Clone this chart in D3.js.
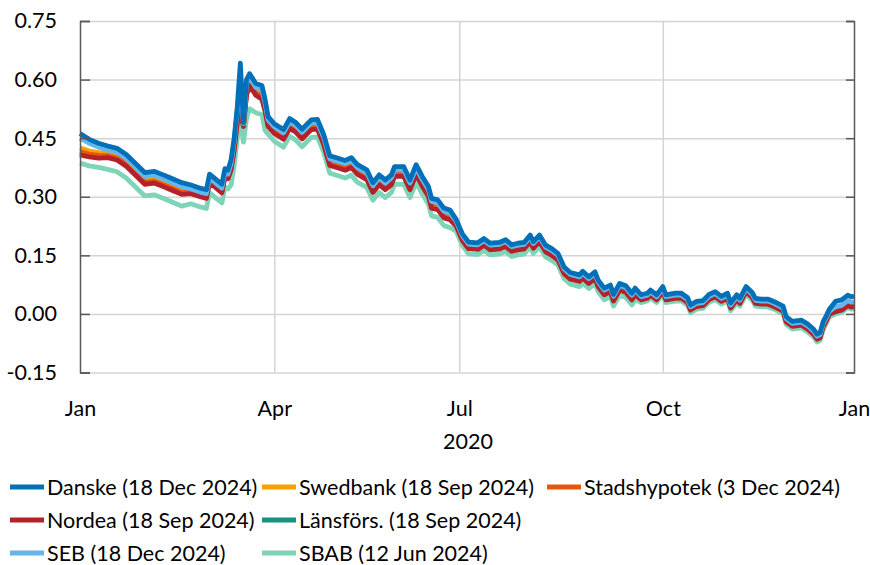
<!DOCTYPE html>
<html>
<head>
<meta charset="utf-8">
<script src="https://cdn.jsdelivr.net/npm/d3@7"></script>
<style>
  body { margin: 0; background: #fff; }
  text { font-family: Lato, 'Liberation Sans', sans-serif; fill: #000; }
</style>
</head>
<body>
<div id="chart"></div>
<script>
const width = 870;
const height = 565;

// trading-day index within 2020 (0 = first trading day in Jan)
const obs = [0, 3, 6, 9, 12, 15, 18, 21, 24, 27, 30, 33, 36, 39, 41, 42, 44, 46, 47, 48,
  49, 50, 51, 52, 53, 54, 55, 57, 59, 60,
  61, 63, 66, 68, 70, 72, 75, 77, 79, 81, 84, 86, 88, 90, 93, 95, 97, 99, 101, 102,
  105, 107, 109, 111, 113, 114, 116, 118, 120,
  122, 124, 126, 129, 131, 133, 136, 138, 140, 142, 144, 146, 147, 149, 151, 153, 155, 157, 159, 162,
  163, 165, 167, 168, 170, 172, 173, 175, 177, 179, 180,
  182, 184, 185, 187, 189, 190, 193, 195, 197, 198, 200, 202, 204, 206, 208, 210, 211, 213, 214, 216,
  218, 219, 221, 223, 225, 228, 229, 231, 234, 236, 238, 239, 240, 241, 242, 243,
  245, 247, 249, 250, 251];

const danske = [.462, .447, .437, .430, .424, .408, .385, .362, .365, .356, .346, .336, .330, .322, .318, .358, .345, .332, .372, .368,
  .395, .450, .530, .642, .490, .600, .615, .590, .585, .550,
  .505, .487, .472, .500, .490, .473, .497, .498, .460, .405, .398, .393, .400, .382, .369, .336, .356, .343, .356, .377,
  .377, .343, .382, .352, .326, .296, .292, .271, .266,
  .242, .205, .184, .182, .193, .181, .183, .190, .177, .181, .183, .202, .185, .202, .176, .167, .155, .120, .106, .100,
  .109, .095, .108, .087, .066, .074, .050, .078, .072, .053, .066,
  .049, .053, .061, .049, .070, .049, .053, .053, .042, .023, .032, .034, .050, .057, .045, .053, .028, .049, .040, .070,
  .055, .040, .038, .038, .032, .020, -.007, -.019, -.016, -.026, -.040, -.052, -.048, -.020, -.005, .012,
  .032, .036, .048, .044, .045];

const seb = [.450, .437, .427, .420, .414, .398, .375, .352, .355, .346, .336, .326, .320, .312, .308, .348, .335, .322, .362, .358,
  .385, .440, .520, .600, .487, .590, .605, .580, .575, .540,
  .497, .479, .464, .492, .482, .465, .489, .490, .452, .397, .390, .385, .392, .374, .361, .328, .348, .335, .348, .369,
  .369, .335, .374, .344, .318, .288, .284, .263, .258,
  .237, .200, .179, .177, .188, .176, .178, .185, .172, .176, .178, .197, .180, .197, .171, .162, .150, .115, .101, .095,
  .104, .090, .103, .082, .061, .069, .045, .073, .067, .048, .061,
  .044, .048, .056, .044, .065, .044, .048, .048, .037, .018, .027, .029, .045, .052, .040, .048, .023, .044, .035, .065,
  .050, .035, .033, .033, .027, .015, -.012, -.024, -.021, -.031, -.045, -.057, -.053, -.025, -.010, .007,
  .018, .022, .034, .030, .031];

const swedbank = [.425, .417, .413, .410, .404, .388, .365, .342, .345, .336, .326, .316, .316, .308, .304, .344, .331, .318, .358, .354,
  .380, .430, .500, .560, .485, .575, .595, .570, .565, .530,
  .490, .472, .457, .485, .475, .458, .482, .483, .445, .390, .383, .378, .385, .367, .354, .321, .341, .328, .341, .362,
  .362, .328, .367, .337, .311, .281, .277, .256, .251,
  .234, .197, .176, .174, .185, .173, .175, .182, .169, .173, .175, .194, .177, .194, .168, .159, .147, .112, .098, .092,
  .101, .087, .100, .079, .058, .066, .042, .070, .064, .045, .058,
  .042, .046, .054, .042, .063, .042, .046, .046, .035, .016, .025, .027, .043, .050, .038, .046, .021, .042, .033, .063,
  .048, .033, .031, .031, .025, .013, -.014, -.026, -.023, -.033, -.047, -.059, -.055, -.027, -.012, .005,
  .008, .012, .024, .020, .021];

const stadshypotek = [.416, .409, .406, .405, .399, .383, .360, .337, .340, .331, .321, .311, .312, .304, .300, .340, .327, .314, .354, .350,
  .375, .425, .495, .540, .482, .570, .590, .565, .560, .525,
  .487, .469, .454, .482, .472, .455, .479, .480, .442, .387, .380, .375, .382, .364, .351, .318, .338, .325, .338, .359,
  .359, .325, .364, .334, .308, .278, .274, .253, .248,
  .232, .195, .174, .172, .183, .171, .173, .180, .167, .171, .173, .192, .175, .192, .166, .157, .145, .110, .096, .090,
  .099, .085, .098, .077, .056, .064, .040, .068, .062, .043, .056,
  .040, .044, .052, .040, .061, .040, .044, .044, .033, .014, .023, .025, .041, .048, .036, .044, .019, .040, .031, .061,
  .046, .031, .029, .029, .023, .011, -.016, -.028, -.025, -.035, -.049, -.061, -.057, -.029, -.014, .003,
  .007, .011, .023, .019, .020];

const nordea = [.407, .402, .399, .400, .394, .378, .355, .332, .335, .326, .316, .306, .308, .300, .296, .336, .323, .310, .350, .346,
  .370, .420, .490, .520, .480, .560, .585, .560, .550, .520,
  .480, .462, .447, .475, .465, .448, .472, .473, .435, .380, .373, .368, .375, .357, .344, .311, .331, .318, .331, .352,
  .352, .318, .357, .327, .301, .271, .267, .246, .241,
  .225, .188, .167, .165, .176, .164, .166, .173, .160, .164, .166, .185, .168, .185, .159, .150, .138, .103, .089, .083,
  .092, .078, .091, .070, .049, .057, .033, .061, .055, .036, .049,
  .036, .040, .048, .036, .057, .036, .040, .040, .029, .010, .019, .021, .037, .044, .032, .040, .015, .036, .027, .057,
  .042, .027, .025, .025, .019, .007, -.020, -.032, -.029, -.039, -.053, -.065, -.061, -.033, -.018, -.001,
  .006, .010, .022, .018, .019];

const lansfors = [.410, .405, .402, .403, .397, .381, .358, .335, .338, .329, .319, .309, .311, .303, .299, .339, .326, .313, .353, .349,
  .373, .423, .493, .523, .483, .563, .588, .563, .553, .523,
  .483, .465, .450, .478, .468, .451, .475, .476, .438, .383, .376, .371, .378, .360, .347, .314, .334, .321, .334, .355,
  .355, .321, .360, .330, .304, .274, .270, .249, .244,
  .228, .191, .170, .168, .179, .167, .169, .176, .163, .167, .169, .188, .171, .188, .162, .153, .141, .106, .092, .086,
  .095, .081, .094, .073, .052, .060, .036, .064, .058, .039, .052,
  .039, .043, .051, .039, .060, .039, .043, .043, .032, .013, .022, .024, .040, .047, .035, .043, .018, .039, .030, .060,
  .045, .030, .028, .028, .022, .010, -.017, -.029, -.026, -.036, -.050, -.062, -.058, -.030, -.015, .002,
  .006, .010, .022, .018, .019];

const sbab = [.386, .379, .375, .370, .364, .348, .325, .302, .305, .296, .286, .276, .282, .274, .270, .310, .297, .284, .324, .320,
  .330, .380, .450, .500, .440, .500, .525, .515, .510, .470,
  .460, .442, .427, .455, .445, .428, .452, .453, .415, .360, .353, .348, .355, .337, .324, .291, .311, .298, .311, .332,
  .332, .298, .337, .307, .281, .251, .247, .226, .221,
  .212, .175, .154, .152, .163, .151, .153, .160, .147, .151, .153, .172, .155, .172, .146, .137, .125, .090, .076, .070,
  .079, .065, .078, .057, .036, .044, .020, .048, .042, .023, .036,
  .029, .033, .041, .029, .050, .029, .033, .033, .022, .003, .012, .014, .030, .037, .025, .033, .008, .029, .020, .050,
  .035, .020, .018, .018, .012, .000, -.027, -.039, -.036, -.046, -.060, -.072, -.068, -.040, -.025, -.008,
  .000, .004, .016, .012, .013];

const yTicks = [-0.15, 0, 0.15, 0.30, 0.45, 0.60, 0.75];
const quarterObs = [0, 63, 123, 189, 251];
const quarterLabels = ['Jan', 'Apr', 'Jul', 'Oct', 'Jan'];
const yearLabel = '2020';

const names = ['Danske (18 Dec 2024)', 'Swedbank (18 Sep 2024)', 'Stadshypotek (3 Dec 2024)',
  'Nordea (18 Sep 2024)', 'Länsförs. (18 Sep 2024)', 'SEB (18 Dec 2024)', 'SBAB (12 Jun 2024)'];
const colors = ['#0070b8', '#f5a100', '#e8560e', '#b52128', '#169180', '#63b6ee', '#7ed4b6'];
const valueLists = [danske, swedbank, stadshypotek, nordea, lansfors, seb, sbab];

const series = names.map((name, i) => ({name, color: colors[i], values: valueLists[i]}));
// drawing order: bottom to top
const drawOrder = [6, 4, 1, 2, 3, 5, 0];

const fontSize = 21.5;
const plot = {left: 80, right: 854, top: 21, bottom: 372.5};

const x = d3.scaleLinear().domain([0, 251]).range([plot.left, plot.right]);
const y = d3.scaleLinear().domain([-0.15, 0.75]).range([plot.bottom, plot.top]);

// plain hyphen for negatives, like the original
const yFormat = d => d3.format('.2f')(d).replace('−', '-');

const svg = d3.select('#chart').append('svg')
    .attr('width', width)
    .attr('height', height);

// horizontal grid
svg.append('g')
    .attr('transform', `translate(${plot.left},0)`)
    .call(d3.axisRight(y).tickValues(yTicks).tickSize(plot.right - plot.left).tickFormat(''))
    .call(g => g.select('.domain').remove())
    .call(g => g.selectAll('line').attr('stroke', '#d4d4d4').attr('stroke-width', 1.5));

// vertical grid
svg.append('g')
    .attr('transform', `translate(0,${plot.top})`)
    .call(d3.axisBottom(x).tickValues(quarterObs.slice(1, -1)).tickSize(plot.bottom - plot.top).tickFormat(''))
    .call(g => g.select('.domain').remove())
    .call(g => g.selectAll('line').attr('stroke', '#d4d4d4').attr('stroke-width', 1.5));

// lines
const line = d3.line()
    .x((d, i) => x(obs[i]))
    .y(d => y(d));

svg.append('g')
    .selectAll('path')
    .data(drawOrder.map(i => series[i]))
    .join('path')
    .attr('fill', 'none')
    .attr('stroke', d => d.color)
    .attr('stroke-width', 4.8)
    .attr('stroke-linejoin', 'round')
    .attr('d', d => line(d.values));

// left axis
svg.append('g')
    .attr('transform', `translate(${plot.left},0)`)
    .call(d3.axisLeft(y).tickValues(yTicks).tickSize(-10).tickPadding(23).tickFormat(yFormat))
    .call(g => g.select('.domain').attr('stroke', '#595959').attr('stroke-width', 1.5))
    .call(g => g.selectAll('line').attr('stroke', '#595959').attr('stroke-width', 1.5))
    .call(g => g.selectAll('text').attr('font-size', fontSize).attr('fill', '#000')
        .style('font-family', 'Lato, sans-serif'));

// right axis
svg.append('g')
    .attr('transform', `translate(${plot.right},0)`)
    .call(d3.axisRight(y).tickValues(yTicks).tickSize(-8).tickFormat(''))
    .call(g => g.select('.domain').attr('stroke', '#595959').attr('stroke-width', 1.5))
    .call(g => g.selectAll('line').attr('stroke', '#595959').attr('stroke-width', 1.5));

// x labels
svg.append('g')
    .attr('transform', `translate(0,${plot.bottom})`)
    .call(d3.axisBottom(x).tickValues(quarterObs).tickSize(0).tickPadding(28)
        .tickFormat((d, i) => quarterLabels[i]))
    .call(g => g.select('.domain').remove())
    .call(g => g.selectAll('text').attr('font-size', fontSize).attr('fill', '#000')
        .style('font-family', 'Lato, sans-serif'));

svg.append('text')
    .attr('x', 468)
    .attr('y', 449)
    .attr('text-anchor', 'middle')
    .attr('font-size', fontSize)
    .text(yearLabel);

// legend
const legendPos = [[10, 487], [262, 487], [547, 487], [10, 520], [262, 520], [10, 553], [262, 553]];
const legend = svg.append('g')
    .selectAll('g')
    .data(series)
    .join('g')
    .attr('transform', (d, i) => `translate(${legendPos[i][0]},${legendPos[i][1]})`);

legend.append('line')
    .attr('x1', 0)
    .attr('x2', 34)
    .attr('stroke', d => d.color)
    .attr('stroke-width', 5);

legend.append('text')
    .attr('x', 37)
    .attr('dy', '0.35em')
    .attr('font-size', fontSize)
    .text(d => d.name);
</script>
</body>
</html>
